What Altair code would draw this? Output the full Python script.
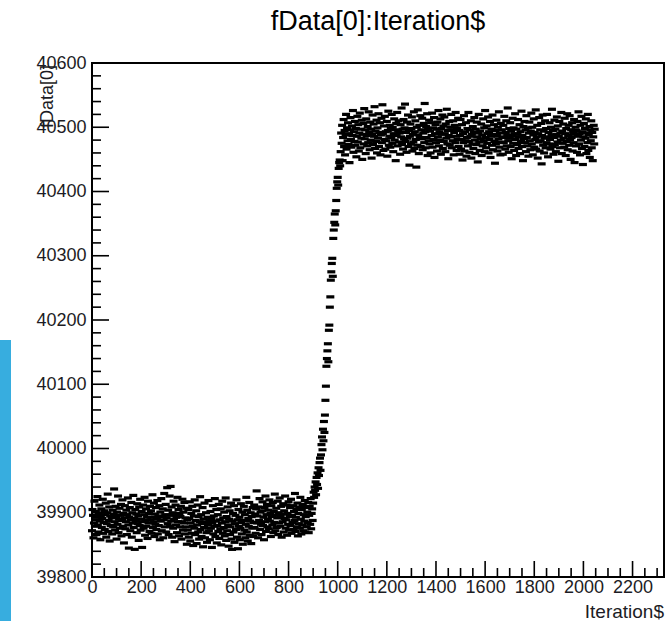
import altair as alt
import pandas as pd

# ---------------- data ----------------
# fData[0] for Iteration$ 0..898, every 2nd iteration
pre_values = [
    39872, 39905, 39896, 39861, 39884, 39918, 39879, 39893, 39902, 39866, 39889, 39925, 39881, 39870, 39899,
    39912, 39887, 39858, 39894, 39906, 39877, 39891, 39921, 39868, 39885, 39903, 39874, 39897, 39915, 39862,
    39883, 39900, 39929, 39871, 39888, 39909, 39856, 39895, 39880, 39917, 39892, 39867, 39904, 39878, 39898,
    39937, 39886, 39873, 39910, 39894, 39859, 39901, 39882, 39926, 39869, 39890, 39907, 39876, 39896, 39913,
    39864, 39888, 39920, 39879, 39899, 39853, 39892, 39911, 39875, 39886, 39904, 39866, 39897, 39923, 39881,
    39845, 39893, 39908, 39872, 39889, 39916, 39862, 39900, 39884, 39927, 39877, 39891, 39843, 39905, 39887,
    39898, 39869, 39914, 39883, 39895, 39857, 39909, 39880, 39921, 39873, 39890, 39902, 39846, 39886, 39912,
    39876, 39897, 39924, 39865, 39888, 39906, 39879, 39893, 39860, 39918, 39884, 39899, 39871, 39910, 39889,
    39903, 39868, 39893, 39928, 39877, 39886, 39915, 39863, 39898, 39882, 39908, 39874, 39891, 39919, 39867,
    39895, 39880, 39911, 39858, 39901, 39887, 39922, 39872, 39894, 39906, 39861, 39889, 39930, 39878, 39897,
    39913, 39870, 39892, 39939, 39883, 39904, 39866, 39896, 39926, 39879, 39941, 39887, 39909, 39862, 39900,
    39876, 39918, 39890, 39855, 39897, 39912, 39881, 39893, 39869, 39924, 39886, 39905, 39864, 39899, 39878,
    39894, 39910, 39859, 39886, 39921, 39873, 39901, 39884, 39916, 39867, 39892, 39878, 39907, 39851, 39889,
    39873, 39905, 39862, 39891, 39917, 39856, 39884, 39899, 39868, 39910, 39879, 39849, 39895, 39876, 39920,
    39866, 39888, 39903, 39852, 39881, 39912, 39870, 39894, 39859, 39886, 39925, 39874, 39897, 39863, 39883,
    39908, 39847, 39890, 39877, 39915, 39861, 39885, 39900, 39869, 39854, 39893, 39881, 39919, 39872, 39888,
    39858, 39902, 39876, 39891, 39846, 39884, 39911, 39867, 39895, 39879, 39922, 39863, 39887, 39905, 39853,
    39880, 39897, 39871, 39913, 39860, 39889, 39875, 39906, 39850, 39884, 39918, 39868, 39892, 39877, 39901,
    39864, 39886, 39923, 39857, 39894, 39872, 39909, 39881, 39848, 39890, 39903, 39866, 39878, 39915, 39859,
    39843, 39887, 39899, 39870, 39911, 39854, 39883, 39896, 39874, 39920, 39862, 39889, 39844, 39905, 39879,
    39893, 39858, 39876, 39914, 39885, 39867, 39901, 39851, 39888, 39910, 39873, 39897, 39861, 39882, 39924,
    39870, 39904, 39856, 39891, 39879, 39916, 39865, 39887, 39900, 39852, 39894, 39876, 39908, 39863, 39885,
    39912, 39877, 39898, 39868, 39906, 39934, 39884, 39895, 39861, 39909, 39888, 39922, 39874, 39901, 39882,
    39866, 39903, 39917, 39880, 39893, 39858, 39908, 39886, 39926, 39871, 39897, 39913, 39878, 39890, 39904,
    39875, 39920, 39887, 39899, 39863, 39911, 39894, 39881, 39916, 39869, 39902, 39885, 39929, 39872, 39896,
    39907, 39877, 39892, 39918, 39866, 39900, 39884, 39923, 39879, 39895, 39910, 39862, 39898, 39886, 39914,
    39870, 39903, 39891, 39926, 39876, 39889, 39912, 39865, 39899, 39882, 39917, 39873, 39894, 39908, 39880,
    39921, 39868, 39896, 39885, 39911, 39874, 39902, 39888, 39930, 39871, 39893, 39906, 39878, 39915, 39864,
    39899, 39883, 39909, 39876, 39924, 39890, 39867, 39905, 39881, 39913, 39872, 39897, 39887, 39919, 39870,
    39894, 39908, 39878, 39901, 39885, 39916, 39869, 39896, 39910, 39882, 39922, 39875, 39899, 39906, 39888,
]
pre_first_iteration = 0
pre_iteration_step = 2

# the step between the two levels
ramp_iterations = [
    900, 902, 904, 906, 908, 910, 912, 914, 916, 918, 920, 922, 924, 926, 928, 930, 932, 934, 936, 938,
    940, 942, 944, 946, 948, 950, 952, 954, 956, 958, 960, 962, 964, 966, 968, 970, 972, 974, 976, 978,
    980, 982, 984, 986, 988, 990, 992, 994, 996, 998, 1000, 1002, 1004, 1006, 1008, 1010,
]
ramp_values = [
    39915, 39932, 39924, 39940, 39935, 39948, 39928, 39955, 39944, 39962, 39938, 39970, 39958, 39978, 39985,
    39966, 39990, 40006, 40018, 39998, 40030, 40012, 40042, 40025, 40052, 40075, 40097, 40128, 40140, 40152,
    40163, 40135, 40184, 40192, 40220, 40236, 40262, 40275, 40288, 40296, 40268, 40327, 40340, 40352, 40365,
    40348, 40370, 40386, 40405, 40415, 40422, 40410, 40436, 40445, 40449, 40440,
]

# fData[0] for Iteration$ 1012..2046, every 2nd iteration
post_values = [
    40462, 40491, 40475, 40503, 40448, 40484, 40512, 40470, 40495, 40457, 40488, 40520, 40466, 40499, 40479,
    40507, 40473, 40490, 40445, 40496, 40515, 40481, 40469, 40502, 40487, 40526, 40461, 40493, 40478, 40509,
    40472, 40498, 40454, 40486, 40517, 40477, 40504, 40463, 40491, 40522, 40468, 40497, 40483, 40511, 40450,
    40489, 40506, 40474, 40529, 40482, 40496, 40459, 40513, 40487, 40471, 40501, 40476, 40524, 40492, 40465,
    40508, 40480, 40497, 40452, 40489, 40519, 40473, 40505, 40486, 40532, 40467, 40494, 40478, 40511, 40460,
    40499, 40483, 40521, 40470, 40492, 40507, 40457, 40488, 40514, 40476, 40535, 40490, 40464, 40502, 40481,
    40517, 40466, 40493, 40479, 40509, 40455, 40495, 40525, 40472, 40486, 40503, 40469, 40498, 40484, 40520,
    40475, 40500, 40462, 40490, 40513, 40480, 40496, 40448, 40506, 40487, 40523, 40471, 40494, 40510, 40477,
    40491, 40458, 40504, 40485, 40530, 40473, 40497, 40466, 40512, 40482, 40499, 40536, 40478, 40492, 40461,
    40508, 40483, 40519, 40470, 40495, 40441, 40486, 40505, 40474, 40498, 40516, 40463, 40489, 40477, 40524,
    40467, 40493, 40510, 40481, 40438, 40500, 40472, 40527, 40488, 40459, 40503, 40484, 40518, 40470, 40496,
    40482, 40514, 40465, 40491, 40506, 40476, 40537, 40493, 40468, 40501, 40484, 40521, 40456, 40497, 40479,
    40511, 40474, 40494, 40460, 40507, 40487, 40522, 40469, 40499, 40481, 40515, 40453, 40490, 40504, 40476,
    40497, 40463, 40508, 40485, 40526, 40471, 40493, 40480, 40513, 40458, 40498, 40489, 40519, 40467, 40502,
    40478, 40516, 40490, 40462, 40505, 40483, 40528, 40474, 40495, 40451, 40487, 40509, 40472, 40500, 40485,
    40520, 40468, 40496, 40479, 40510, 40457, 40492, 40503, 40476, 40523, 40486, 40464, 40499, 40481, 40514,
    40470, 40495, 40458, 40487, 40512, 40466, 40481, 40504, 40449, 40490, 40476, 40518, 40463, 40493, 40479,
    40507, 40455, 40484, 40498, 40471, 40523, 40478, 40461, 40496, 40486, 40510, 40452, 40489, 40474, 40501,
    40467, 40492, 40515, 40480, 40459, 40497, 40473, 40508, 40485, 40446, 40491, 40520, 40477, 40464, 40494,
    40482, 40505, 40456, 40488, 40471, 40513, 40479, 40499, 40462, 40526, 40484, 40468, 40502, 40475, 40490,
    40516, 40460, 40493, 40481, 40509, 40453, 40486, 40497, 40472, 40519, 40465, 40489, 40504, 40478, 40444,
    40495, 40474, 40511, 40487, 40463, 40500, 40482, 40524, 40469, 40491, 40457, 40506, 40477, 40496, 40485,
    40458, 40503, 40476, 40517, 40484, 40466, 40492, 40510, 40471, 40488, 40530, 40479, 40461, 40498, 40483,
    40507, 40470, 40494, 40451, 40486, 40514, 40475, 40499, 40464, 40490, 40521, 40481, 40456, 40497, 40473,
    40489, 40512, 40467, 40485, 40504, 40459, 40493, 40478, 40525, 40470, 40487, 40448, 40501, 40482, 40509,
    40476, 40496, 40462, 40518, 40484, 40471, 40499, 40455, 40491, 40508, 40479, 40465, 40494, 40522, 40474,
    40500, 40457, 40488, 40513, 40469, 40492, 40481, 40527, 40466, 40485, 40503, 40452, 40490, 40477, 40515,
    40463, 40496, 40479, 40506, 40443, 40487, 40519, 40472, 40494, 40460, 40483, 40510, 40468, 40498, 40476,
    40520, 40485, 40454, 40492, 40474, 40507, 40481, 40466, 40500, 40488, 40528, 40470, 40495, 40458, 40484,
    40511, 40473, 40497, 40462, 40489, 40516, 40477, 40502, 40447, 40486, 40509, 40468, 40491, 40480, 40523,
    40459, 40494, 40475, 40505, 40483, 40469, 40514, 40490, 40456, 40498, 40478, 40521, 40465, 40487, 40503,
    40472, 40518, 40481, 40450, 40496, 40484, 40507, 40463, 40492, 40476, 40512, 40445, 40489, 40500, 40471,
    40495, 40461, 40509, 40486, 40524, 40474, 40490, 40457, 40503, 40480, 40517, 40467, 40493, 40442, 40485,
    40506, 40470, 40498, 40483, 40513, 40459, 40491, 40476, 40520, 40464, 40488, 40501, 40453, 40496, 40479,
    40510, 40468, 40492, 40448, 40485, 40503, 40474, 40497,
]
post_first_iteration = 1012
post_iteration_step = 2

# axes
x_domain = [0, 2328]
y_domain = [39800, 40600]
x_tick_labels = [0, 200, 400, 600, 800, 1000, 1200, 1400, 1600, 1800, 2000, 2200]
y_tick_labels = [39800, 39900, 40000, 40100, 40200, 40300, 40400, 40500, 40600]
x_minor_ticks = [v for v in range(0, 2328, 50) if v % 200 != 0]
y_minor_ticks = [v for v in range(39800, 40600, 20) if v % 100 != 0]

title_text = "fData[0]:Iteration$"
x_title = "Iteration$"
y_title = "fData[0]"

# ---------------- build table ----------------
iterations = (
    [pre_first_iteration + pre_iteration_step * i for i in range(len(pre_values))]
    + ramp_iterations
    + [post_first_iteration + post_iteration_step * i for i in range(len(post_values))]
)
values = pre_values + ramp_values + post_values
df = pd.DataFrame({"iteration": iterations, "value": values})

W, H = 572, 514
FONT = "Liberation Sans"
LABEL_COLOR = "#1c1c24"

xscale = alt.Scale(domain=x_domain, nice=False, zero=False)
yscale = alt.Scale(domain=y_domain, nice=False, zero=False)

points = alt.Chart(df).mark_tick(
    orient="horizontal", size=8, thickness=3.2, color="black", opacity=1
).encode(
    x=alt.X("iteration:Q", scale=xscale,
            axis=alt.Axis(values=x_tick_labels, format="d", ticks=False, domain=False, grid=False,
                          labelFont=FONT, labelFontSize=18, labelColor=LABEL_COLOR,
                          labelPadding=1, labelOverlap=False, labelFlush=False, title=None)),
    y=alt.Y("value:Q", scale=yscale,
            axis=alt.Axis(values=y_tick_labels, format="d", ticks=False, domain=False, grid=False,
                          labelFont=FONT, labelFontSize=18, labelColor=LABEL_COLOR,
                          labelPadding=6, labelOverlap=False, labelFlush=False, title=None)),
)

ymaj = alt.Chart(pd.DataFrame({"v": y_tick_labels})).mark_rule(color="black", strokeWidth=1.6).encode(
    y=alt.Y("v:Q", scale=yscale), x=alt.value(0), x2=alt.value(17))
ymin = alt.Chart(pd.DataFrame({"v": y_minor_ticks})).mark_rule(color="black", strokeWidth=1.6).encode(
    y=alt.Y("v:Q", scale=yscale), x=alt.value(0), x2=alt.value(9))
xmaj = alt.Chart(pd.DataFrame({"v": x_tick_labels})).mark_rule(color="black", strokeWidth=1.6).encode(
    x=alt.X("v:Q", scale=xscale), y=alt.value(H), y2=alt.value(H - 16))
xmin = alt.Chart(pd.DataFrame({"v": x_minor_ticks})).mark_rule(color="black", strokeWidth=1.6).encode(
    x=alt.X("v:Q", scale=xscale), y=alt.value(H), y2=alt.value(H - 9))

title = alt.Chart(pd.DataFrame({"t": [title_text]})).mark_text(
    font=FONT, fontSize=27, color="black", align="center", baseline="alphabetic"
).encode(text="t:N", x=alt.value(W / 2), y=alt.value(-33))

xtitle = alt.Chart(pd.DataFrame({"t": [x_title]})).mark_text(
    font=FONT, fontSize=19, color=LABEL_COLOR, align="right", baseline="alphabetic"
).encode(text="t:N", x=alt.value(W), y=alt.value(555))

ytitle = alt.Chart(pd.DataFrame({"t": [y_title]})).mark_text(
    font=FONT, fontSize=18, color=LABEL_COLOR, align="right", baseline="middle", angle=270
).encode(text="t:N", x=alt.value(-44), y=alt.value(2))

side_bar = alt.Chart(pd.DataFrame({"a": [0]})).mark_rect(color="#37ADDF").encode(
    x=alt.value(-92), x2=alt.value(-81), y=alt.value(277), y2=alt.value(H + 44))

chart = alt.layer(
    side_bar, ymin, ymaj, xmin, xmaj, points, title, xtitle, ytitle
).properties(
    width=W, height=H,
    autosize=alt.AutoSizeParams(type="none"),
    padding={"left": 92, "top": 63, "right": 2, "bottom": 44},
    background="white",
).configure_view(
    stroke="black", strokeWidth=2
)

chart.save("out.html", embed_options={"renderer": "svg", "actions": False})
